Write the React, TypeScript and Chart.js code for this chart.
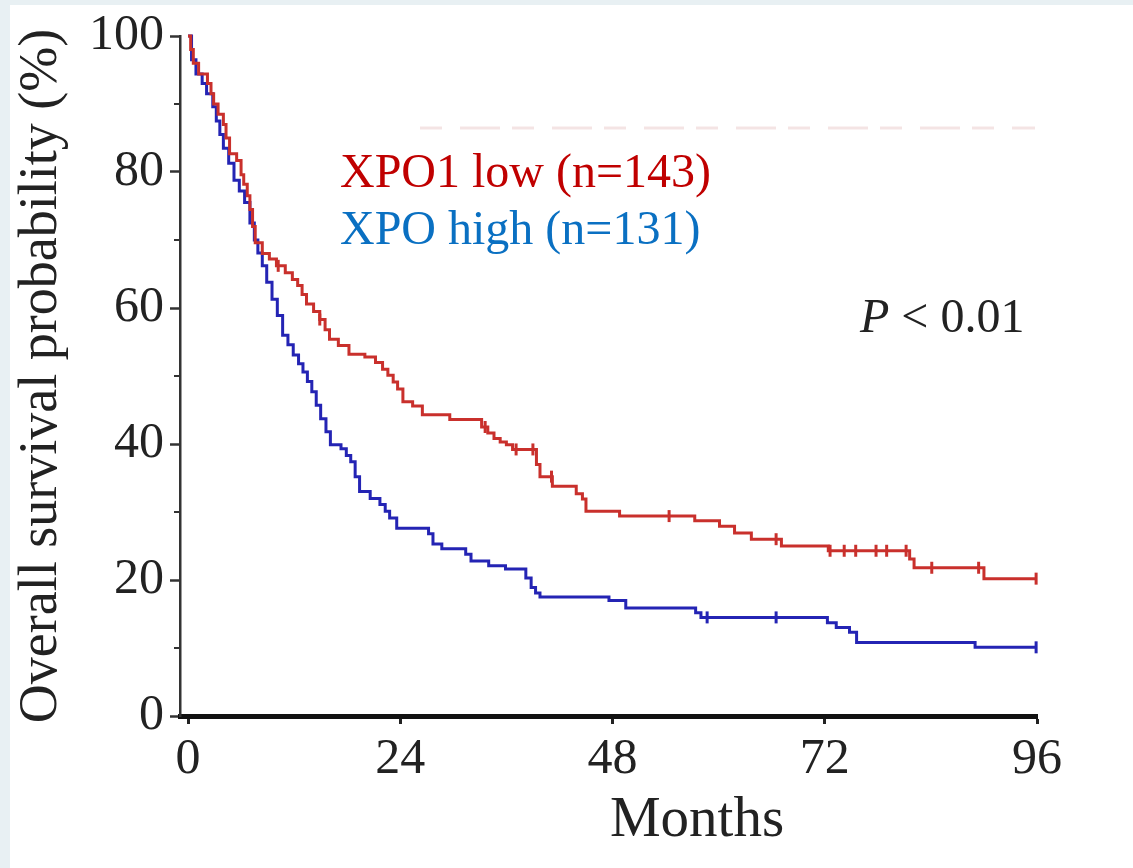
import React, { useEffect, useRef } from "react";
import { Chart, registerables } from "chart.js";

Chart.register(...registerables);

// ---- data (months, survival %) ----
const lowTimes = [
  0, 0.3, 0.6, 1.2, 2.2, 2.6, 2.9, 3.4, 4.0, 4.3,
  4.7, 5.5, 6.0, 6.3, 6.7, 7.0, 7.3, 7.6, 8.4, 9.2,
  10.0, 11.0, 11.8, 12.4, 12.9, 13.4, 14.2, 14.9, 15.5, 16.0,
  17.0, 18.2, 20.0, 21.2, 22.0, 22.6, 23.2, 23.7, 24.3, 25.4,
  26.5, 29.6, 33.2, 33.9, 34.6, 35.3, 36.0, 36.7, 39.4, 39.8,
  41.2, 43.9, 44.6, 45.0, 48.8, 57.3, 60.1, 61.8, 63.7, 67.1,
  72.4, 81.6, 82.1, 90.0, 96,
];
const lowSurv = [
  100, 98, 96, 94.4, 93, 91.5, 90, 88.5, 87, 85,
  82.7, 81.7, 79.6, 78.2, 76.5, 74.5, 72, 69.6, 68, 67.2,
  66.2, 65.2, 64.2, 63.3, 62, 60.6, 59.5, 58.3, 56.8, 55.4,
  54.5, 53.2, 52.8, 52, 51, 50.1, 49.1, 48.1, 46.2, 45.6,
  44.3, 43.6, 42.5, 41.6, 40.8, 40.3, 39.9, 39.2, 37, 35.2,
  33.8, 32.7, 31.9, 30.1, 29.4, 28.7, 27.9, 26.9, 26, 25,
  24.3, 23.1, 21.8, 20.2, 20.2,
];
const lowCensorTimes = [
  10.2, 14.9, 33.6, 37.1, 39.0, 41.1, 54.4, 66.5, 72.6, 74.2,
  75.5, 77.8, 79.0, 81.2, 84.1, 89.4, 95.9,
];

const highTimes = [
  0, 0.4, 0.9, 1.6, 2.1, 2.8, 3.2, 3.6, 4.0, 4.6,
  5.2, 5.8, 6.4, 7.0, 7.5, 7.9, 8.4, 8.9, 9.5, 10.1,
  10.7, 11.3, 11.9, 12.5, 13.0, 13.5, 14.0, 14.5, 15.0, 15.6,
  16.1, 17.3, 17.9, 18.4, 18.9, 19.4, 20.6, 21.7, 22.3, 22.8,
  23.6, 27.2, 27.7, 28.7, 31.4, 32.0, 34.0, 35.9, 38.2, 38.8,
  39.3, 39.8, 47.6, 49.5, 57.4, 58.0, 72.3, 73.3, 74.8, 75.6,
  89.0, 96,
];
const highSurv = [
  100, 96.5, 94.4, 93.0, 91.5, 89.6, 87.5, 85.5, 83.5, 81.3,
  78.8, 77.2, 75.5, 72.5, 70.0, 68.1, 66.2, 63.8, 61.3, 58.9,
  56.0, 54.6, 53.1, 51.8, 50.6, 49.2, 47.7, 45.7, 43.7, 41.8,
  39.9, 39.3, 38.3, 37.4, 35.2, 33.0, 32.0, 31.1, 30.1, 29.1,
  27.6, 26.8, 25.3, 24.6, 23.8, 22.8, 22.1, 21.6, 20.3, 18.9,
  18.1, 17.5, 17.0, 15.9, 15.2, 14.5, 13.7, 13.0, 12.3, 10.8,
  10.1, 10.1,
];
const highCensorTimes = [58.7, 66.5, 95.9];

const xTicks = [0, 24, 48, 72, 96];
const yTicks = [0, 20, 40, 60, 80, 100];
const yMinorTicks = [10, 30, 50, 70, 90];
const seriesLabels = ["XPO1 low (n=143)", "XPO high (n=131)"];
const pValueParts = ["P", " < 0.01"];
const xTitle = "Months";
const yTitle = "Overall survival probability (%)";

const RED = "#c9302c";
const BLUE = "#2424b4";
const SERIF = '"Liberation Serif", "Times New Roman", serif';

function survAt(times: number[], surv: number[], t: number) {
  let s = surv[0];
  for (let i = 0; i < times.length; i++) if (times[i] <= t) s = surv[i];
  return s;
}

function toPoints(times: number[], surv: number[]) {
  return times.map((t, i) => ({ x: t, y: surv[i] }));
}

function censorPoints(ct: number[], times: number[], surv: number[]) {
  return ct.map((t) => ({ x: t, y: survAt(times, surv, t) }));
}

const overlayPlugin = {
  id: "overlay",
  beforeDraw(chart: any) {
    const { ctx, width, height } = chart;
    ctx.save();
    ctx.fillStyle = "#e8f0f3";
    ctx.fillRect(0, 0, width, height);
    ctx.fillStyle = "#ffffff";
    ctx.fillRect(10, 5, width - 10, height - 5);
    // faint cropped artifact line near top
    ctx.strokeStyle = "rgba(230,195,195,0.45)";
    ctx.lineWidth = 3;
    ctx.setLineDash([22, 18, 40, 12]);
    ctx.beginPath();
    ctx.moveTo(420, 128);
    ctx.lineTo(1035, 128);
    ctx.stroke();
    ctx.setLineDash([]);
    ctx.restore();
  },
  afterDraw(chart: any) {
    const { ctx } = chart;
    const y = chart.scales.y;
    ctx.save();
    // minor y ticks
    ctx.strokeStyle = "#333";
    ctx.lineWidth = 2;
    yMinorTicks.forEach((v) => {
      const py = y.getPixelForValue(v);
      ctx.beginPath();
      ctx.moveTo(y.right - 6, py);
      ctx.lineTo(y.right, py);
      ctx.stroke();
    });
    // legend text
    ctx.textBaseline = "alphabetic";
    ctx.textAlign = "left";
    ctx.font = `48px ${SERIF}`;
    ctx.fillStyle = "#c00000";
    ctx.fillText(seriesLabels[0], 340, 187);
    ctx.fillStyle = "#0a70c2";
    ctx.fillText(seriesLabels[1], 340, 244);
    // p value
    ctx.fillStyle = "#222";
    ctx.font = `italic 48px ${SERIF}`;
    ctx.fillText(pValueParts[0], 860, 332);
    const pw = ctx.measureText(pValueParts[0]).width;
    ctx.font = `48px ${SERIF}`;
    ctx.fillText(pValueParts[1], 860 + pw, 332);
    // x title
    ctx.font = `57px ${SERIF}`;
    ctx.textAlign = "center";
    ctx.fillText(xTitle, 697, 836);
    ctx.restore();
  },
};

export default function App() {
  const canvasRef = useRef<HTMLCanvasElement | null>(null);

  useEffect(() => {
    const canvas = canvasRef.current;
    if (!canvas) return;
    const chart = new Chart(canvas, {
      type: "line",
      data: {
        datasets: [
          {
            label: seriesLabels[0],
            data: toPoints(lowTimes, lowSurv),
            borderColor: RED,
            borderWidth: 3,
            stepped: "before",
            pointRadius: 0,
            fill: false,
            clip: false,
          },
          {
            label: seriesLabels[0] + " censored",
            data: censorPoints(lowCensorTimes, lowTimes, lowSurv),
            showLine: false,
            pointStyle: "line",
            rotation: 90,
            pointRadius: 6,
            pointBorderWidth: 3,
            pointBorderColor: RED,
            borderColor: RED,
            clip: false,
          },
          {
            label: seriesLabels[1],
            data: toPoints(highTimes, highSurv),
            borderColor: BLUE,
            borderWidth: 3,
            stepped: "before",
            pointRadius: 0,
            fill: false,
            clip: false,
          },
          {
            label: seriesLabels[1] + " censored",
            data: censorPoints(highCensorTimes, highTimes, highSurv),
            showLine: false,
            pointStyle: "line",
            rotation: 90,
            pointRadius: 6,
            pointBorderWidth: 3,
            pointBorderColor: BLUE,
            borderColor: BLUE,
            clip: false,
          },
        ],
      },
      options: {
        responsive: false,
        animation: false,
        devicePixelRatio: 1,
        layout: { padding: { top: 32, right: 96, bottom: 0, left: 0 } },
        plugins: { legend: { display: false }, tooltip: { enabled: false } },
        scales: {
          x: {
            type: "linear",
            min: -0.905,
            max: 96,
            afterBuildTicks: (s: any) => {
              s.ticks = xTicks.map((v) => ({ value: v }));
            },
            afterFit: (s: any) => {
              s.height = 152;
            },
            ticks: {
              autoSkip: false,
              maxRotation: 0,
              padding: 6,
              color: "#222",
              font: { family: SERIF, size: 50 },
            },
            grid: {
              display: true,
              drawOnChartArea: false,
              drawTicks: true,
              tickLength: 8,
              tickWidth: 3,
              tickColor: "#222",
            },
            border: { display: true, color: "#111", width: 5 },
          },
          y: {
            type: "linear",
            min: 0,
            max: 100,
            afterBuildTicks: (s: any) => {
              s.ticks = yTicks.map((v) => ({ value: v }));
            },
            afterFit: (s: any) => {
              s.width = 180;
            },
            ticks: {
              padding: 6,
              color: "#222",
              font: { family: SERIF, size: 50 },
            },
            grid: {
              display: true,
              drawOnChartArea: false,
              drawTicks: true,
              tickLength: 10,
              tickWidth: 2.5,
              tickColor: "#333",
            },
            border: { display: true, color: "#333", width: 2.5 },
            title: {
              display: true,
              text: yTitle,
              color: "#222",
              font: { family: SERIF, size: 54 },
              padding: { top: 9, bottom: 0 },
            },
          },
        },
      },
      plugins: [overlayPlugin],
    } as any);
    return () => chart.destroy();
  }, []);

  return (
    <div style={{ position: "fixed", left: 0, top: 0, width: 1133, height: 868 }}>
      <canvas ref={canvasRef} width={1133} height={868} style={{ display: "block" }} />
    </div>
  );
}
